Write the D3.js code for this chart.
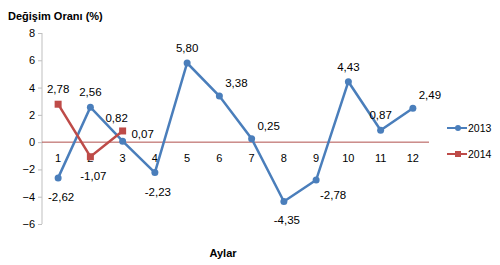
<!DOCTYPE html>
<html>
<head>
<meta charset="utf-8">
<script src="https://cdn.jsdelivr.net/npm/d3@7"></script>
<style>
  body { margin: 0; background: #fff; }
  text { font-family: "Liberation Sans", Arial, sans-serif; font-size: 11px; fill: #000; }
</style>
</head>
<body>
<div id="chart"></div>
<script>
// months on the x axis
var months = ["1", "2", "3", "4", "5", "6", "7", "8", "9", "10", "11", "12"];
var values2013 = [-2.62, 2.56, 0.07, -2.23, 5.80, 3.38, 0.25, -4.35, -2.78, 4.43, 0.87, 2.49];
var values2014 = [2.78, -1.07, 0.82];
var yTicks = [-6, -4, -2, 0, 2, 4, 6, 8];
// where each data label sits relative to its point
var place2013 = ["below", "above", "right", "below", "above", "upright", "upright", "below", "downright", "above", "above", "upright"];
var place2014 = ["above", "below", "aboveleft"];

var width = 500, height = 265;
var margin = {top: 33, left: 42};
var plotW = 387, plotH = 191;

var svg = d3.select("#chart").append("svg")
    .attr("width", width)
    .attr("height", height);

var x = d3.scaleBand().domain(months).range([margin.left, margin.left + plotW]);
var y = d3.scaleLinear().domain([-6, 8]).range([margin.top + plotH, margin.top]);
var cx = function(d, i) { return x(months[i]) + x.bandwidth() / 2; };

// y axis
var yAxis = d3.axisLeft(y).tickValues(yTicks).tickSize(4).tickPadding(3);
var gy = svg.append("g").attr("transform", "translate(" + margin.left + ",0)").call(yAxis);
gy.select(".domain").attr("stroke", "#bfbfbf").attr("d", "M0," + y(-6) + "V" + y(8));
gy.selectAll(".tick line").attr("stroke", "#bfbfbf");
gy.selectAll(".tick text").style("font-size", "11px").attr("fill", "#000");

// zero line (category axis)
svg.append("line")
    .attr("x1", margin.left).attr("x2", margin.left + plotW)
    .attr("y1", y(0)).attr("y2", y(0))
    .attr("stroke", "#b0504d").attr("stroke-width", 1);

svg.append("g").selectAll("text").data(months).enter().append("text")
    .attr("x", function(d) { return x(d) + x.bandwidth() / 2; })
    .attr("y", y(0) + 20)
    .attr("text-anchor", "middle")
    .text(function(d) { return d; });

var line = d3.line()
    .x(cx)
    .y(function(d) { return y(d); });

var c2013 = "#4a7ebb", c2014 = "#be4b48";

svg.append("path").datum(values2013)
    .attr("d", line).attr("fill", "none")
    .attr("stroke", c2013).attr("stroke-width", 2.5);
svg.append("g").selectAll("circle").data(values2013).enter().append("circle")
    .attr("cx", cx).attr("cy", function(d) { return y(d); })
    .attr("r", 3.5).attr("fill", c2013);

svg.append("path").datum(values2014)
    .attr("d", line).attr("fill", "none")
    .attr("stroke", c2014).attr("stroke-width", 2.5);
svg.append("g").selectAll("rect").data(values2014).enter().append("rect")
    .attr("x", function(d, i) { return cx(d, i) - 3.5; })
    .attr("y", function(d) { return y(d) - 3.5; })
    .attr("width", 7).attr("height", 7).attr("fill", c2014);

var offsets = {
  above: [0, -11], below: [3, 23], right: [20, -3], upright: [17, -9],
  downright: [17, 19], aboveleft: [-6, -9]
};
function fmt(v) { return v.toFixed(2).replace(".", ","); }
function labels(vals, place) {
  svg.append("g").selectAll("text").data(vals).enter().append("text")
    .attr("x", function(d, i) { return cx(d, i) + offsets[place[i]][0]; })
    .attr("y", function(d, i) { return y(d) + offsets[place[i]][1]; })
    .attr("text-anchor", "middle")
    .style("font-size", "11.5px")
    .text(fmt);
}
labels(values2013, place2013);
labels(values2014, place2014);

// titles
svg.append("text").attr("x", 8).attr("y", 20)
    .style("font-weight", "bold").style("font-size", "11px")
    .text("Değişim Oranı (%)");
svg.append("text").attr("x", 223).attr("y", 257)
    .attr("text-anchor", "middle")
    .style("font-weight", "bold").style("font-size", "11px")
    .text("Aylar");

// legend
var legend = [{name: "2013", color: c2013, shape: "circle"}, {name: "2014", color: c2014, shape: "rect"}];
var lg = svg.append("g").selectAll("g").data(legend).enter().append("g")
    .attr("transform", function(d, i) { return "translate(447," + (128 + i * 26) + ")"; });
lg.append("line").attr("x1", 0).attr("x2", 20)
    .attr("stroke", function(d) { return d.color; }).attr("stroke-width", 2);
lg.filter(function(d) { return d.shape == "circle"; }).append("circle")
    .attr("cx", 11).attr("r", 3).attr("fill", function(d) { return d.color; });
lg.filter(function(d) { return d.shape == "rect"; }).append("rect")
    .attr("x", 8).attr("y", -3).attr("width", 6).attr("height", 6)
    .attr("fill", function(d) { return d.color; });
lg.append("text").attr("x", 21).attr("y", 4)
    .style("font-size", "10.5px")
    .text(function(d) { return d.name; });
</script>
</body>
</html>
